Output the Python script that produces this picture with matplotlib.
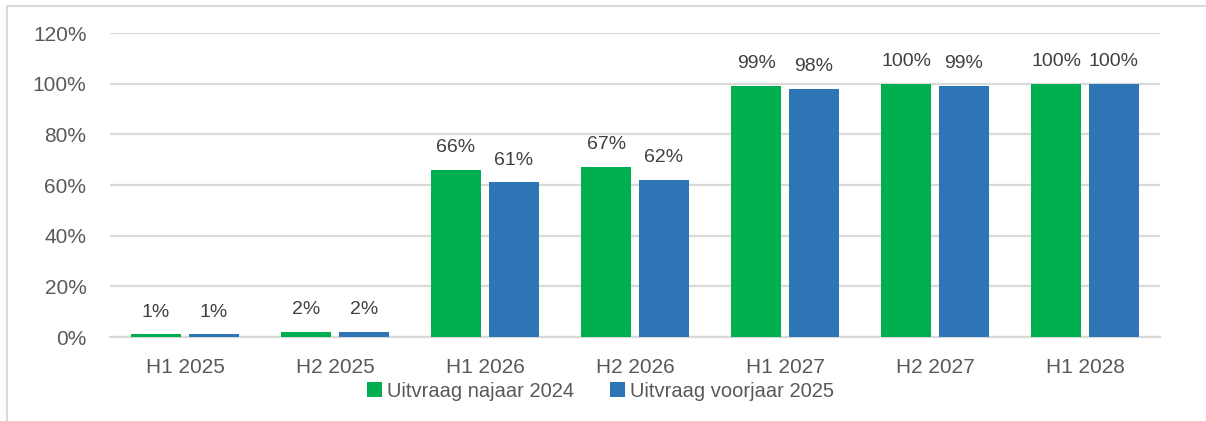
import numpy as np
import matplotlib.pyplot as plt
from matplotlib.lines import Line2D

categories = ['H1 2025', 'H2 2025', 'H1 2026', 'H2 2026', 'H1 2027', 'H2 2027', 'H1 2028']
najaar_2024 = [1, 2, 66, 67, 99, 100, 100]
voorjaar_2025 = [1, 2, 61, 62, 98, 99, 100]
series_names = ['Uitvraag najaar 2024', 'Uitvraag voorjaar 2025']

green = '#00B050'
blue = '#2E75B6'
grey_txt = '#595959'
grid_col = '#D9D9D9'

plt.rcParams['font.family'] = ['Liberation Sans', 'DejaVu Sans']

fig = plt.figure(figsize=(12.06, 4.21), dpi=100)
ax = fig.add_axes([0.0912, 0.1995, 0.8707, 0.7221])

x = np.arange(len(categories))
w = 0.333
off = 0.193
b1 = ax.bar(x - off, najaar_2024, w, color=green, label=series_names[0], zorder=3)
b2 = ax.bar(x + off, voorjaar_2025, w, color=blue, label=series_names[1], zorder=3)

for bars, vals in ((b1, najaar_2024), (b2, voorjaar_2025)):
    for rect, v in zip(bars, vals):
        ax.annotate(f'{v}%', (rect.get_x() + rect.get_width() / 2, v),
                    xytext=(0, 10), textcoords='offset points',
                    ha='center', va='bottom', fontsize=14, color='#404040')

ax.set_xlim(-0.5, len(categories) - 0.5)
ax.set_ylim(0, 120)
ax.set_yticks(range(0, 121, 20))
ax.set_yticklabels([f'{t}%' for t in range(0, 121, 20)])
ax.set_xticks(x)
ax.set_xticklabels(categories)
ax.tick_params(axis='both', length=0, labelcolor=grey_txt)
ax.tick_params(axis='y', pad=17, labelsize=15)
ax.tick_params(axis='x', pad=15, labelsize=15)
ax.yaxis.grid(True, color=grid_col, linewidth=1.6, zorder=0)
for s in ['top', 'right', 'left']:
    ax.spines[s].set_visible(False)
ax.spines['bottom'].set_color(grid_col)
ax.spines['bottom'].set_linewidth(1.6)

ax.legend(loc='upper center', bbox_to_anchor=(0.467, -0.088), ncol=2, frameon=False,
          fontsize=14.5, labelcolor=grey_txt, handlelength=0.75, handleheight=0.75,
          handletextpad=0.25, columnspacing=1.8)

# chart frame (partly outside the picture)
fig.add_artist(Line2D([7 / 1206, 7 / 1206], [0, 1 - 6 / 421], color='#D9D9D9', lw=1.5))
fig.add_artist(Line2D([7 / 1206, 1], [1 - 6 / 421, 1 - 6 / 421], color='#D9D9D9', lw=1.5))

fig.savefig('out.png', dpi=100)
